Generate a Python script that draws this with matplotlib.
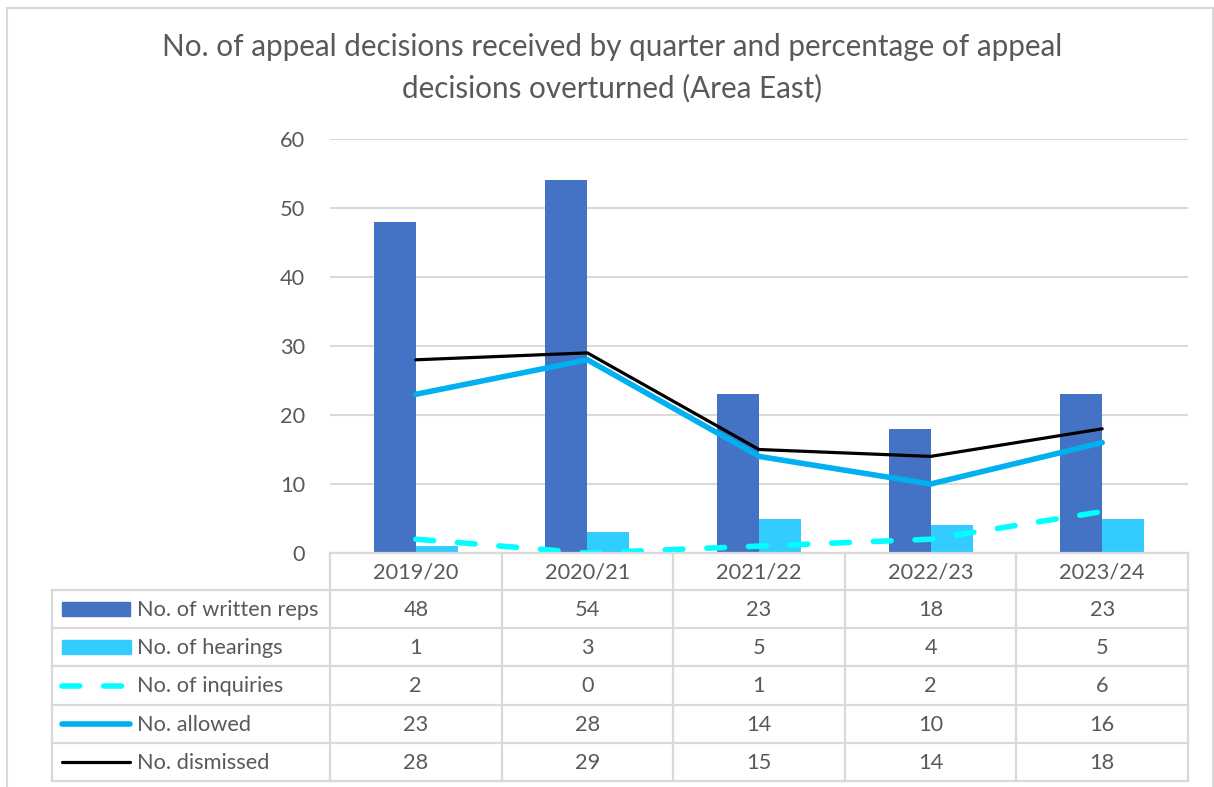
import matplotlib.pyplot as plt
from matplotlib.lines import Line2D
from matplotlib.patches import Rectangle
import numpy as np

plt.rcParams['font.family'] = ['Lato', 'DejaVu Sans']

years = ['2019/20', '2020/21', '2021/22', '2022/23', '2023/24']
written_reps = [48, 54, 23, 18, 23]
hearings = [1, 3, 5, 4, 5]
inquiries = [2, 0, 1, 2, 6]
allowed = [23, 28, 14, 10, 16]
dismissed = [28, 29, 15, 14, 18]
series_names = ['No. of written reps', 'No. of hearings', 'No. of inquiries',
                'No. allowed', 'No. dismissed']

C_REPS = '#4472C4'
C_HEAR = '#33CCFF'
C_INQ = '#00FFFF'
C_ALLOW = '#00B0F0'
C_DISM = '#000000'
TXT = '#595959'
GRID = '#D9D9D9'
FS = 15.7

W, H = 1214, 787
fig = plt.figure(figsize=(W / 100, H / 100), dpi=100)

def fx(px):
    return px / W

def fy(py):
    return 1 - py / H

# plot area in pixels
x0, x1, y0, y1 = 330, 1188, 553, 139
ax = fig.add_axes([fx(x0), fy(y0), fx(x1) - fx(x0), fy(y1) - fy(y0)])

x = np.arange(len(years))
bw = 0.245
ax.bar(x - bw / 2, written_reps, bw, color=C_REPS, zorder=2)
ax.bar(x + bw / 2, hearings, bw, color=C_HEAR, zorder=2)
ax.plot(x, inquiries, color=C_INQ, lw=4, dashes=(3.2, 4.3), dash_capstyle='round', zorder=3)
ax.plot(x, allowed, color=C_ALLOW, lw=4, solid_capstyle='round', zorder=3)
ax.plot(x, dismissed, color=C_DISM, lw=2.3, solid_capstyle='round', zorder=4)

ax.set_xlim(-0.5, len(years) - 0.5)
ax.set_ylim(0, 60)
ax.set_yticks(range(0, 61, 10))
ax.yaxis.grid(True, color=GRID, lw=1.5)
ax.set_axisbelow(True)
for s in ['top', 'right', 'left', 'bottom']:
    ax.spines[s].set_visible(False)
ax.set_xticks([])
ax.tick_params(axis='y', length=0, pad=18, labelsize=FS, labelcolor=TXT)

fig.suptitle('No. of appeal decisions received by quarter and percentage of appeal\n'
             'decisions overturned (Area East)',
             x=fx(612), y=fy(33), va='top', fontsize=21.3, color=TXT, linespacing=1.52)

# data table
tl = 52
header_bottom = 590
row_h = 38.2
col_w = (x1 - x0) / len(years)
rows = [written_reps, hearings, inquiries, allowed, dismissed]
table_bottom = header_bottom + row_h * len(rows)

def hline(xa, xb, py):
    fig.add_artist(Line2D([fx(xa), fx(xb)], [fy(py), fy(py)], color=GRID, lw=1.6))

def vline(px, ya, yb):
    fig.add_artist(Line2D([fx(px), fx(px)], [fy(ya), fy(yb)], color=GRID, lw=1.6))

hline(x0, x1, y0)
hline(tl, x1, header_bottom)
for i in range(1, len(rows) + 1):
    hline(tl, x1, header_bottom + row_h * i)
for j in range(len(years) + 1):
    vline(x0 + col_w * j, y0, table_bottom)
vline(tl, header_bottom, table_bottom)

for j, yr in enumerate(years):
    fig.text(fx(x0 + col_w * (j + 0.5)), fy((y0 + header_bottom) / 2 + 1), yr,
             ha='center', va='center', fontsize=FS, color=TXT)

for i, (name, vals) in enumerate(zip(series_names, rows)):
    cy = header_bottom + row_h * (i + 0.5)
    for j, v in enumerate(vals):
        fig.text(fx(x0 + col_w * (j + 0.5)), fy(cy + 1), str(v),
                 ha='center', va='center', fontsize=FS, color=TXT)
    fig.text(fx(137), fy(cy + 1), name, ha='left', va='center', fontsize=FS, color=TXT)

# legend keys in the table
kx0, kx1 = 62, 130
def key_y(i):
    return fy(header_bottom + row_h * (i + 0.5))

fig.add_artist(Rectangle((fx(kx0), key_y(0) - 7 / H), fx(kx1) - fx(kx0), 14 / H, color=C_REPS))
fig.add_artist(Rectangle((fx(kx0), key_y(1) - 7 / H), fx(kx1 + 1) - fx(kx0), 14 / H, color=C_HEAR))
fig.add_artist(Line2D([fx(kx0), fx(kx1)], [key_y(2)] * 2, color=C_INQ, lw=4,
                      dashes=(3.2, 4.3), dash_capstyle='round'))
fig.add_artist(Line2D([fx(kx0), fx(kx1)], [key_y(3)] * 2, color=C_ALLOW, lw=4, solid_capstyle='round'))
fig.add_artist(Line2D([fx(kx0), fx(kx1)], [key_y(4)] * 2, color=C_DISM, lw=2.3, solid_capstyle='round'))

# chart border
fig.add_artist(Rectangle((fx(7), fy(792)), fx(1213) - fx(7), fy(8) - fy(792),
                         fill=False, ec=GRID, lw=1.5))

fig.savefig('out.png', dpi=100)
